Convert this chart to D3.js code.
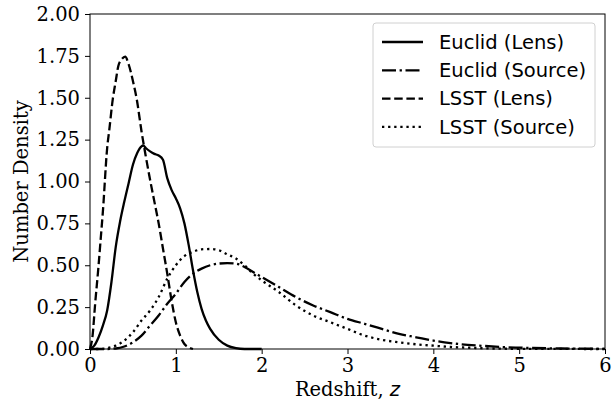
<!DOCTYPE html>
<html>
<head>
<meta charset="utf-8">
<script src="https://cdn.jsdelivr.net/npm/d3@7/dist/d3.min.js"></script>
<style>
  body { margin: 0; background: #fff; }
  svg { display: block; }
  .tick text { font-family: "DejaVu Serif", serif; font-size: 19.5px; fill: #000; }
  .tick line { stroke: #000; stroke-width: 1; }
  .axis path.domain { display: none; }
</style>
</head>
<body>
<div id="chart"></div>
<script>

// redshift grids + number densities
var euclidLensZ = [0, 0.05, 0.1, 0.15, 0.2, 0.25, 0.3, 0.35, 0.4, 0.45, 0.5, 0.55, 0.6, 0.62, 0.65, 0.7, 0.75, 0.8, 0.85, 0.9, 0.95, 1.0, 1.05, 1.1, 1.15, 1.2, 1.25, 1.3, 1.35, 1.4, 1.5, 1.6, 1.7, 1.8, 2.0];
var euclidLensN = [0, 0.02, 0.07, 0.14, 0.23, 0.40, 0.61, 0.76, 0.88, 0.99, 1.10, 1.17, 1.21, 1.215, 1.20, 1.18, 1.165, 1.155, 1.13, 1.02, 0.95, 0.90, 0.84, 0.75, 0.62, 0.47, 0.34, 0.24, 0.17, 0.12, 0.055, 0.02, 0.005, 0, 0];

var euclidSrcZ = [0, 0.2, 0.3, 0.4, 0.5, 0.6, 0.7, 0.8, 0.9, 1.0, 1.1, 1.2, 1.3, 1.4, 1.5, 1.6, 1.7, 1.8, 1.9, 2.0, 2.2, 2.4, 2.6, 2.8, 3.0, 3.2, 3.4, 3.6, 3.8, 4.0, 4.2, 4.4, 4.6, 4.8, 5.0, 5.5, 6.0];
var euclidSrcN = [0, 0, 0.003, 0.015, 0.04, 0.08, 0.14, 0.20, 0.27, 0.33, 0.40, 0.45, 0.48, 0.50, 0.51, 0.513, 0.51, 0.49, 0.46, 0.43, 0.37, 0.31, 0.26, 0.22, 0.18, 0.15, 0.12, 0.09, 0.07, 0.05, 0.035, 0.025, 0.018, 0.012, 0.008, 0.003, 0.001];

var lsstLensZ = [0, 0.03, 0.06, 0.1, 0.125, 0.15, 0.2, 0.225, 0.265, 0.3, 0.33, 0.37, 0.41, 0.45, 0.5, 0.545, 0.6, 0.65, 0.7, 0.75, 0.8, 0.85, 0.9, 0.95, 1.0, 1.05, 1.1, 1.15, 1.2];
var lsstLensN = [0, 0.08, 0.27, 0.50, 0.66, 0.82, 1.20, 1.31, 1.49, 1.60, 1.69, 1.73, 1.745, 1.70, 1.60, 1.49, 1.30, 1.15, 1.01, 0.88, 0.75, 0.60, 0.45, 0.29, 0.16, 0.08, 0.03, 0.01, 0];

var lsstSrcZ = [0, 0.1, 0.2, 0.3, 0.4, 0.5, 0.6, 0.7, 0.8, 0.9, 1.0, 1.1, 1.2, 1.3, 1.4, 1.5, 1.6, 1.7, 1.8, 1.9, 2.0, 2.2, 2.4, 2.6, 2.8, 3.0, 3.2, 3.4, 3.6, 3.8, 4.0, 4.2, 4.4, 4.6, 5.0, 6.0];
var lsstSrcN = [0, 0, 0.005, 0.02, 0.05, 0.10, 0.17, 0.23, 0.31, 0.42, 0.50, 0.555, 0.58, 0.595, 0.597, 0.59, 0.565, 0.54, 0.50, 0.45, 0.41, 0.34, 0.26, 0.20, 0.16, 0.12, 0.08, 0.055, 0.04, 0.028, 0.02, 0.012, 0.008, 0.004, 0.001, 0];

var xTicks = [0, 1, 2, 3, 4, 5, 6];
var yTicks = [0, 0.25, 0.5, 0.75, 1.0, 1.25, 1.5, 1.75, 2.0];

var seriesNames = ["Euclid (Lens)", "Euclid (Source)", "LSST (Lens)", "LSST (Source)"];


var W = 612, H = 403;
var margin = {top: 14, right: 7, bottom: 54, left: 90};
var width = W - margin.left - margin.right;
var height = H - margin.top - margin.bottom;

var lw = 2.3;
var dashes = {
    "Euclid (Lens)": null,
    "Euclid (Source)": "14,3.6,2.3,3.6",
    "LSST (Lens)": "8.5,3.7",
    "LSST (Source)": "2.3,3.8"
};

var series = [
    {name: seriesNames[0], z: euclidLensZ, n: euclidLensN},
    {name: seriesNames[1], z: euclidSrcZ, n: euclidSrcN},
    {name: seriesNames[2], z: lsstLensZ, n: lsstLensN},
    {name: seriesNames[3], z: lsstSrcZ, n: lsstSrcN}
];

var svg = d3.select("#chart").append("svg")
    .attr("width", W)
    .attr("height", H);

var g = svg.append("g")
    .attr("transform", "translate(" + margin.left + "," + margin.top + ")");

var x = d3.scaleLinear().domain([0, 6]).range([0, width]);
var y = d3.scaleLinear().domain([0, 2]).range([height, 0]);

var xAxis = d3.axisBottom(x).tickValues(xTicks).tickFormat(d3.format("d")).tickSize(5).tickPadding(4);
var yAxis = d3.axisLeft(y).tickValues(yTicks).tickFormat(d3.format(".2f")).tickSize(5).tickPadding(5);

g.append("g")
    .attr("class", "x axis")
    .attr("transform", "translate(0," + height + ")")
    .call(xAxis);

g.append("g")
    .attr("class", "y axis")
    .call(yAxis);

// curves
var line = d3.line()
    .x(function(d){ return x(d[0]); })
    .y(function(d){ return y(d[1]); })
    .curve(d3.curveMonotoneX);

var plot = g.append("g");
series.forEach(function(s) {
    var pts = s.z.map(function(z, i){ return [z, s.n[i]]; });
    plot.append("path")
        .datum(pts)
        .attr("d", line)
        .attr("fill", "none")
        .attr("stroke", "#000")
        .attr("stroke-width", lw)
        .attr("stroke-dasharray", dashes[s.name]);
});

// frame
g.append("rect")
    .attr("width", width)
    .attr("height", height)
    .attr("fill", "none")
    .attr("stroke", "#000")
    .attr("stroke-width", 1);

// axis labels
svg.append("text")
    .attr("x", margin.left + width / 2)
    .attr("y", 396)
    .attr("text-anchor", "middle")
    .style("font-family", "DejaVu Serif, serif")
    .style("font-size", "19.5px")
    .text("Redshift, ")
    .append("tspan")
    .style("font-family", "DejaVu Sans, sans-serif")
    .style("font-style", "italic")
    .text("z");

svg.append("text")
    .attr("transform", "translate(28," + (margin.top + height / 2) + ") rotate(-90)")
    .attr("text-anchor", "middle")
    .style("font-family", "DejaVu Serif, serif")
    .style("font-size", "19.5px")
    .text("Number Density");

// legend
var legend = svg.append("g").attr("transform", "translate(373,23)");
legend.append("rect")
    .attr("width", 222)
    .attr("height", 124)
    .attr("rx", 3)
    .attr("fill", "#fff")
    .attr("fill-opacity", 0.8)
    .attr("stroke", "#d0d0d0")
    .attr("stroke-width", 1);

var item = legend.selectAll(".item")
    .data(seriesNames)
    .enter().append("g")
    .attr("class", "item")
    .attr("transform", function(d, i){ return "translate(0," + (19 + i * 28.3) + ")"; });

item.append("line")
    .attr("x1", 9)
    .attr("x2", 50)
    .attr("stroke", "#000")
    .attr("stroke-width", lw)
    .attr("stroke-dasharray", function(d){ return dashes[d]; });

item.append("text")
    .attr("x", 66)
    .attr("dy", "0.35em")
    .style("font-family", "DejaVu Sans, sans-serif")
    .style("font-size", "19.5px")
    .text(function(d){ return d; });

</script>
</body>
</html>
